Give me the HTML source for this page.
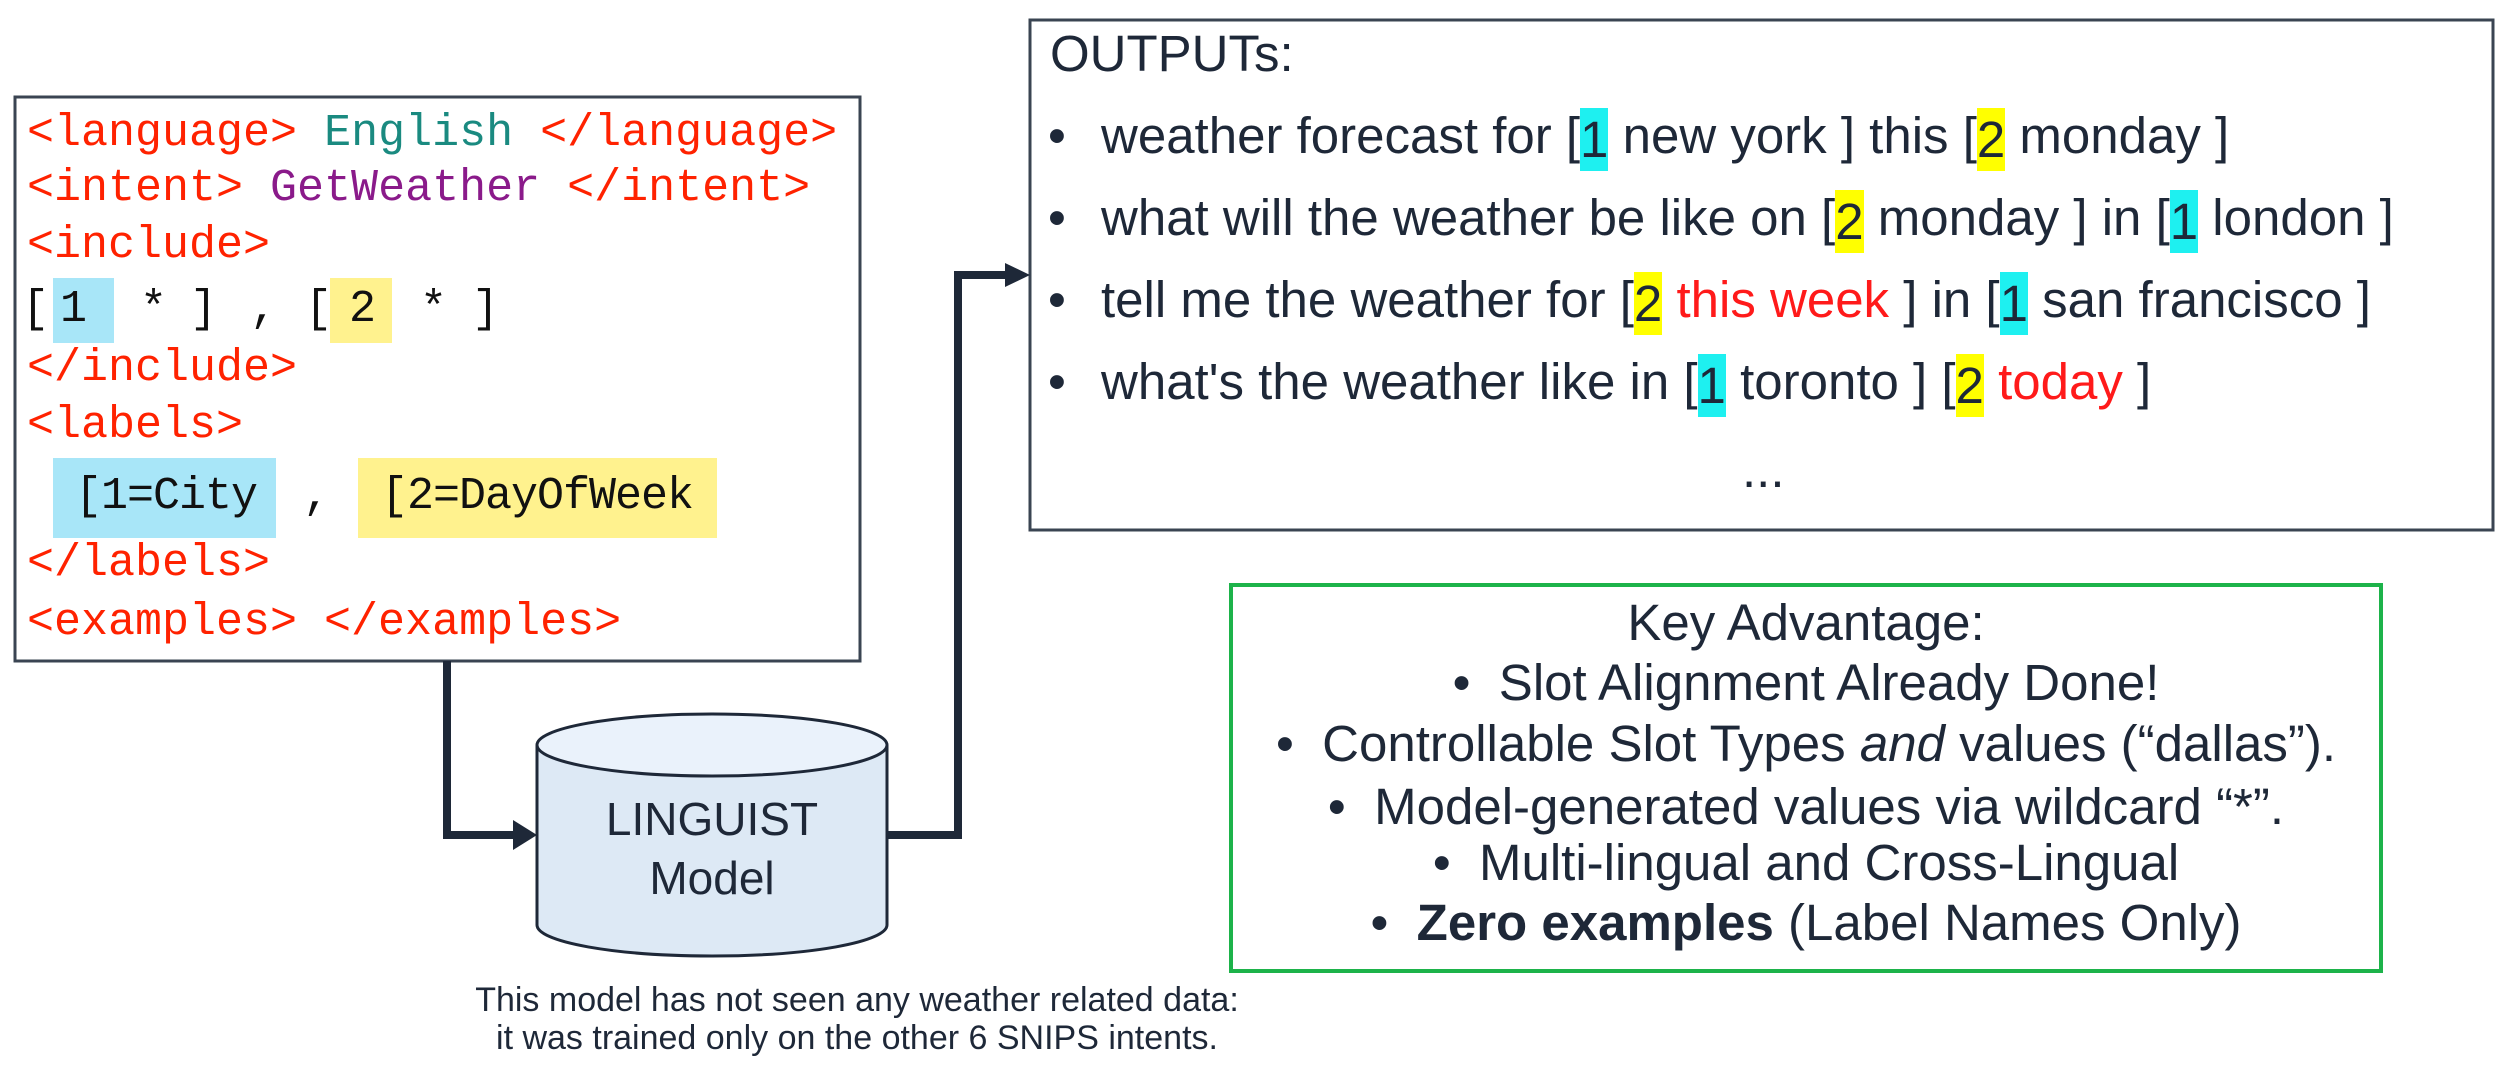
<!DOCTYPE html>
<html><head><meta charset="utf-8"><style>
body{margin:0;background:#fff;width:2509px;height:1080px;position:relative;overflow:hidden}
.a{position:absolute;white-space:pre}
.m{font-family:"Liberation Mono",monospace;font-size:45px;line-height:56px;color:#ff2200}
.s{font-family:"Liberation Sans",sans-serif;color:#1e2838}
.o{font-size:51px;line-height:60px}
.hc,.hy{display:inline-block;line-height:63px;height:63px;vertical-align:middle}
.hc{background:#1ef0f0}.hy{background:#ffff00}
.r{color:#ff1a1a}
.g{font-size:51px;line-height:60px;text-align:center}
</style></head><body>
<svg class="a" style="left:0;top:0" width="2509" height="1080">
<rect x="15" y="97" width="845" height="564" fill="#fff" stroke="#3a4452" stroke-width="3"/>
<rect x="1030" y="20" width="1463" height="510" fill="#fff" stroke="#3a4452" stroke-width="3"/>
<rect x="1231" y="585" width="1150" height="386" fill="#fff" stroke="#1db34a" stroke-width="4"/>
<rect x="53" y="278" width="61" height="65" fill="#a8e6f8"/>
<rect x="330" y="278" width="62" height="65" fill="#fff28e"/>
<rect x="53" y="458" width="223" height="80" fill="#a8e6f8"/>
<rect x="358" y="458" width="359" height="80" fill="#fff28e"/>
<path d="M537 745 L537 925 A175 31 0 0 0 887 925 L887 745" fill="#dde9f5" stroke="#1e2838" stroke-width="3"/>
<ellipse cx="712" cy="745" rx="175" ry="31" fill="#eaf2fb" stroke="#1e2838" stroke-width="3"/>
<path d="M447 661 L447 835 L515 835" fill="none" stroke="#1e2838" stroke-width="8"/>
<polygon points="537,835 513,820 513,850" fill="#1e2838"/>
<path d="M887 835 L958 835 L958 275 L1008 275" fill="none" stroke="#1e2838" stroke-width="8"/>
<polygon points="1030,275 1005,263 1005,287" fill="#1e2838"/>
</svg>
<div class="a m" style="left:27px;top:106px"><span>&lt;language&gt; </span><span style="color:#1a8a80">English</span> &lt;/language&gt;</div>
<div class="a m" style="left:27px;top:161px">&lt;intent&gt; <span style="color:#8a1a8a">GetWeather</span> &lt;/intent&gt;</div>
<div class="a m" style="left:27px;top:218px">&lt;include&gt;</div>
<div class="a m" style="left:22px;top:282px;color:#111">[</div>
<div class="a m" style="left:60px;top:282px;color:#111">1</div>
<div class="a m" style="left:140px;top:282px;color:#111">*</div>
<div class="a m" style="left:190px;top:282px;color:#111">]</div>
<div class="a m" style="left:250px;top:282px;color:#111">,</div>
<div class="a m" style="left:305px;top:282px;color:#111">[</div>
<div class="a m" style="left:349px;top:282px;color:#111">2</div>
<div class="a m" style="left:420px;top:282px;color:#111">*</div>
<div class="a m" style="left:472px;top:282px;color:#111">]</div>
<div class="a m" style="left:27px;top:341px">&lt;/include&gt;</div>
<div class="a m" style="left:27px;top:398px">&lt;labels&gt;</div>
<div class="a m" style="left:75px;top:469px;color:#111;letter-spacing:-1px">[1=City</div>
<div class="a m" style="left:303px;top:469px;color:#111">,</div>
<div class="a m" style="left:381px;top:469px;color:#111;letter-spacing:-1px">[2=DayOfWeek</div>
<div class="a m" style="left:27px;top:536px">&lt;/labels&gt;</div>
<div class="a m" style="left:27px;top:595px">&lt;examples&gt; &lt;/examples&gt;</div>

<div class="a s o" style="left:1050px;top:24px">OUTPUTs:</div>
<div class="a s o" style="left:1048px;top:106px">•</div>
<div class="a s o" style="left:1048px;top:188px">•</div>
<div class="a s o" style="left:1048px;top:270px">•</div>
<div class="a s o" style="left:1048px;top:352px">•</div>
<div class="a s o" style="left:1101px;top:106px">weather forecast for [<span class="hc">1</span> new york ] this [<span class="hy">2</span> monday ]</div>
<div class="a s o" style="left:1101px;top:188px">what will the weather be like on [<span class="hy">2</span> monday ] in [<span class="hc">1</span> london ]</div>
<div class="a s o" style="left:1101px;top:270px">tell me the weather for [<span class="hy">2</span> <span class="r">this week</span> ] in [<span class="hc">1</span> san francisco ]</div>
<div class="a s o" style="left:1101px;top:352px">what's the weather like in [<span class="hc">1</span> toronto ] [<span class="hy">2</span> <span class="r">today</span> ]</div>
<div class="a s o" style="left:1742px;top:440px">...</div>

<div class="a s g" style="left:1231px;width:1150px;top:593px">Key Advantage:</div>
<div class="a s g" style="left:1231px;width:1150px;top:653px">•  Slot Alignment Already Done!</div>
<div class="a s g" style="left:1231px;width:1150px;top:714px">•  Controllable Slot Types <i>and</i> values (“dallas”).</div>
<div class="a s g" style="left:1231px;width:1150px;top:777px">•  Model-generated values via wildcard “*”.</div>
<div class="a s g" style="left:1231px;width:1150px;top:833px">•  Multi-lingual and Cross-Lingual</div>
<div class="a s g" style="left:1231px;width:1150px;top:893px">•  <b>Zero examples</b> (Label Names Only)</div>

<div class="a s" style="left:537px;width:350px;top:791px;text-align:center;font-size:46px;line-height:56px">LINGUIST</div>
<div class="a s" style="left:537px;width:350px;top:850px;text-align:center;font-size:46px;line-height:56px">Model</div>
<div class="a s" style="left:407px;width:900px;top:981px;text-align:center;font-size:34px;line-height:38px">This model has not seen any weather related data:<br>it was trained only on the other 6 SNIPS intents.</div>
</body></html>
